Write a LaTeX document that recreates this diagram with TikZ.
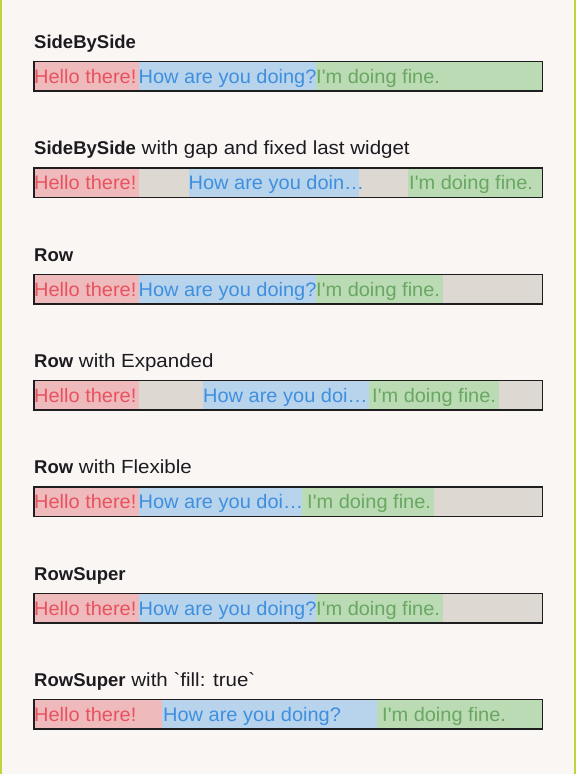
\documentclass[tikz,border=0pt]{standalone}
\usepackage{fontspec}
\setmainfont{Liberation Sans}[Ligatures=TeXOff]
\newfontfamily\titlefont{Liberation Sans}[FakeStretch=1.08, Ligatures=TeXOff]
\newfontfamily\cellfont{Liberation Sans}[FakeStretch=1.025, Ligatures=TeXOff]
\definecolor{bgcol}{HTML}{FAF6F4}
\definecolor{edgecol}{HTML}{BFD43A}
\definecolor{framecol}{HTML}{1E1E1E}
\definecolor{contcol}{HTML}{DDD9D2}
\definecolor{redbg}{HTML}{EFBABB}
\definecolor{redfg}{HTML}{E8525F}
\definecolor{bluebg}{HTML}{B8D3EC}
\definecolor{bluefg}{HTML}{3F8FDF}
\definecolor{greenbg}{HTML}{BADBB3}
\definecolor{greenfg}{HTML}{6AA763}
\definecolor{titlecol}{HTML}{1D1B20}
\newcommand\tbold[1]{{\fontsize{18.5}{22}\selectfont\rmfamily\bfseries #1}}
\begin{document}
\begin{tikzpicture}[x=1pt,y=-1pt,
  cont/.style={draw=none, fill=contcol, inner sep=0pt, minimum height=29pt, minimum width=508pt, anchor=north west},
  cellbg/.style={draw=none, inner sep=0pt, minimum height=29pt, anchor=north west},
  ctext/.style={inner sep=0pt, anchor=base west, font=\cellfont\fontsize{19.5}{23}\selectfont},
  titletext/.style={inner sep=0pt, anchor=base west, text=titlecol, font=\titlefont\fontsize{19}{23}\selectfont},
  frame/.style={draw=framecol, line width=1.8pt}]
\useasboundingbox (0,0) rectangle (576,774);
\fill[bgcol] (0,0) rectangle (576,774);
\fill[edgecol] (0,0) rectangle (2.2,774);
\fill[edgecol] (573.8,0) rectangle (576,774);

% ---- 1: SideBySide
\node[titletext] (t1) at (34,48.3) {\tbold{SideBySide}};
\node[cont] (b1) at (34,61.5) {};
\node[cellbg, fill=redbg, minimum width=105pt] (r1) at (34,61.5) {};
\node[cellbg, fill=bluebg, minimum width=177pt] (u1) at (139,61.5) {};
\node[cellbg, fill=greenbg, minimum width=226pt] (g1) at (316,61.5) {};
\node[ctext, text=redfg] (r1t) at (34,83.3) {Hello there!};
\node[ctext, text=bluefg] (u1t) at (138.5,83.3) {How are you doing?};
\node[ctext, text=greenfg] (g1t) at (316,83.3) {I'm doing fine.};
\draw[frame] (b1.north west) rectangle (b1.south east);

% ---- 2: SideBySide with gap
\node[titletext] (t2) at (34,154.8) {\tbold{SideBySide} with gap and fixed last widget};
\node[cont] (b2) at (34,168) {};
\node[cellbg, fill=redbg, minimum width=105pt] (r2) at (34,168) {};
\node[cellbg, fill=bluebg, minimum width=170pt] (u2) at (189,168) {};
\node[cellbg, fill=greenbg, minimum width=134pt] (g2) at (408,168) {};
\node[ctext, text=redfg] (r2t) at (34,189.8) {Hello there!};
\node[ctext, text=bluefg] (u2t) at (188.5,189.8) {How are you doin…};
\node[ctext, text=greenfg] (g2t) at (409,189.8) {I'm doing fine.};
\draw[frame] (b2.north west) rectangle (b2.south east);

% ---- 3: Row
\node[titletext] (t3) at (34,261.3) {\tbold{Row}};
\node[cont] (b3) at (34,274.5) {};
\node[cellbg, fill=redbg, minimum width=105pt] (r3) at (34,274.5) {};
\node[cellbg, fill=bluebg, minimum width=177pt] (u3) at (139,274.5) {};
\node[cellbg, fill=greenbg, minimum width=127pt] (g3) at (316,274.5) {};
\node[ctext, text=redfg] (r3t) at (34,296.3) {Hello there!};
\node[ctext, text=bluefg] (u3t) at (138.5,296.3) {How are you doing?};
\node[ctext, text=greenfg] (g3t) at (316,296.3) {I'm doing fine.};
\draw[frame] (b3.north west) rectangle (b3.south east);

% ---- 4: Row with Expanded
\node[titletext] (t4) at (34,367.3) {\tbold{Row} with Expanded};
\node[cont] (b4) at (34,380.5) {};
\node[cellbg, fill=redbg, minimum width=105pt] (r4) at (34,380.5) {};
\node[cellbg, fill=bluebg, minimum width=166pt] (u4) at (203,380.5) {};
\node[cellbg, fill=greenbg, minimum width=130pt] (g4) at (369,380.5) {};
\node[ctext, text=redfg] (r4t) at (34,402.3) {Hello there!};
\node[ctext, text=bluefg] (u4t) at (203,402.3) {How are you doi…};
\node[ctext, text=greenfg] (g4t) at (372,402.3) {I'm doing fine.};
\draw[frame] (b4.north west) rectangle (b4.south east);

% ---- 5: Row with Flexible
\node[titletext] (t5) at (34,473.8) {\tbold{Row} with Flexible};
\node[cont] (b5) at (34,487) {};
\node[cellbg, fill=redbg, minimum width=105pt] (r5) at (34,487) {};
\node[cellbg, fill=bluebg, minimum width=163pt] (u5) at (139,487) {};
\node[cellbg, fill=greenbg, minimum width=132pt] (g5) at (302,487) {};
\node[ctext, text=redfg] (r5t) at (34,508.8) {Hello there!};
\node[ctext, text=bluefg] (u5t) at (138.5,508.8) {How are you doi…};
\node[ctext, text=greenfg] (g5t) at (307,508.8) {I'm doing fine.};
\draw[frame] (b5.north west) rectangle (b5.south east);

% ---- 6: RowSuper
\node[titletext] (t6) at (34,580.3) {\tbold{RowSuper}};
\node[cont] (b6) at (34,593.5) {};
\node[cellbg, fill=redbg, minimum width=105pt] (r6) at (34,593.5) {};
\node[cellbg, fill=bluebg, minimum width=177pt] (u6) at (139,593.5) {};
\node[cellbg, fill=greenbg, minimum width=127pt] (g6) at (316,593.5) {};
\node[ctext, text=redfg] (r6t) at (34,615.3) {Hello there!};
\node[ctext, text=bluefg] (u6t) at (138.5,615.3) {How are you doing?};
\node[ctext, text=greenfg] (g6t) at (316,615.3) {I'm doing fine.};
\draw[frame] (b6.north west) rectangle (b6.south east);

% ---- 7: RowSuper with fill
\node[titletext] (t7) at (34,686.3) {\tbold{RowSuper} with `fill: true`};
\node[cont] (b7) at (34,699.5) {};
\node[cellbg, fill=redbg, minimum width=128pt] (r7) at (34,699.5) {};
\node[cellbg, fill=bluebg, minimum width=215pt] (u7) at (162,699.5) {};
\node[cellbg, fill=greenbg, minimum width=165pt] (g7) at (377,699.5) {};
\node[ctext, text=redfg] (r7t) at (34,721.3) {Hello there!};
\node[ctext, text=bluefg] (u7t) at (163,721.3) {How are you doing?};
\node[ctext, text=greenfg] (g7t) at (382,721.3) {I'm doing fine.};
\draw[frame] (b7.north west) rectangle (b7.south east);
\end{tikzpicture}
\end{document}
